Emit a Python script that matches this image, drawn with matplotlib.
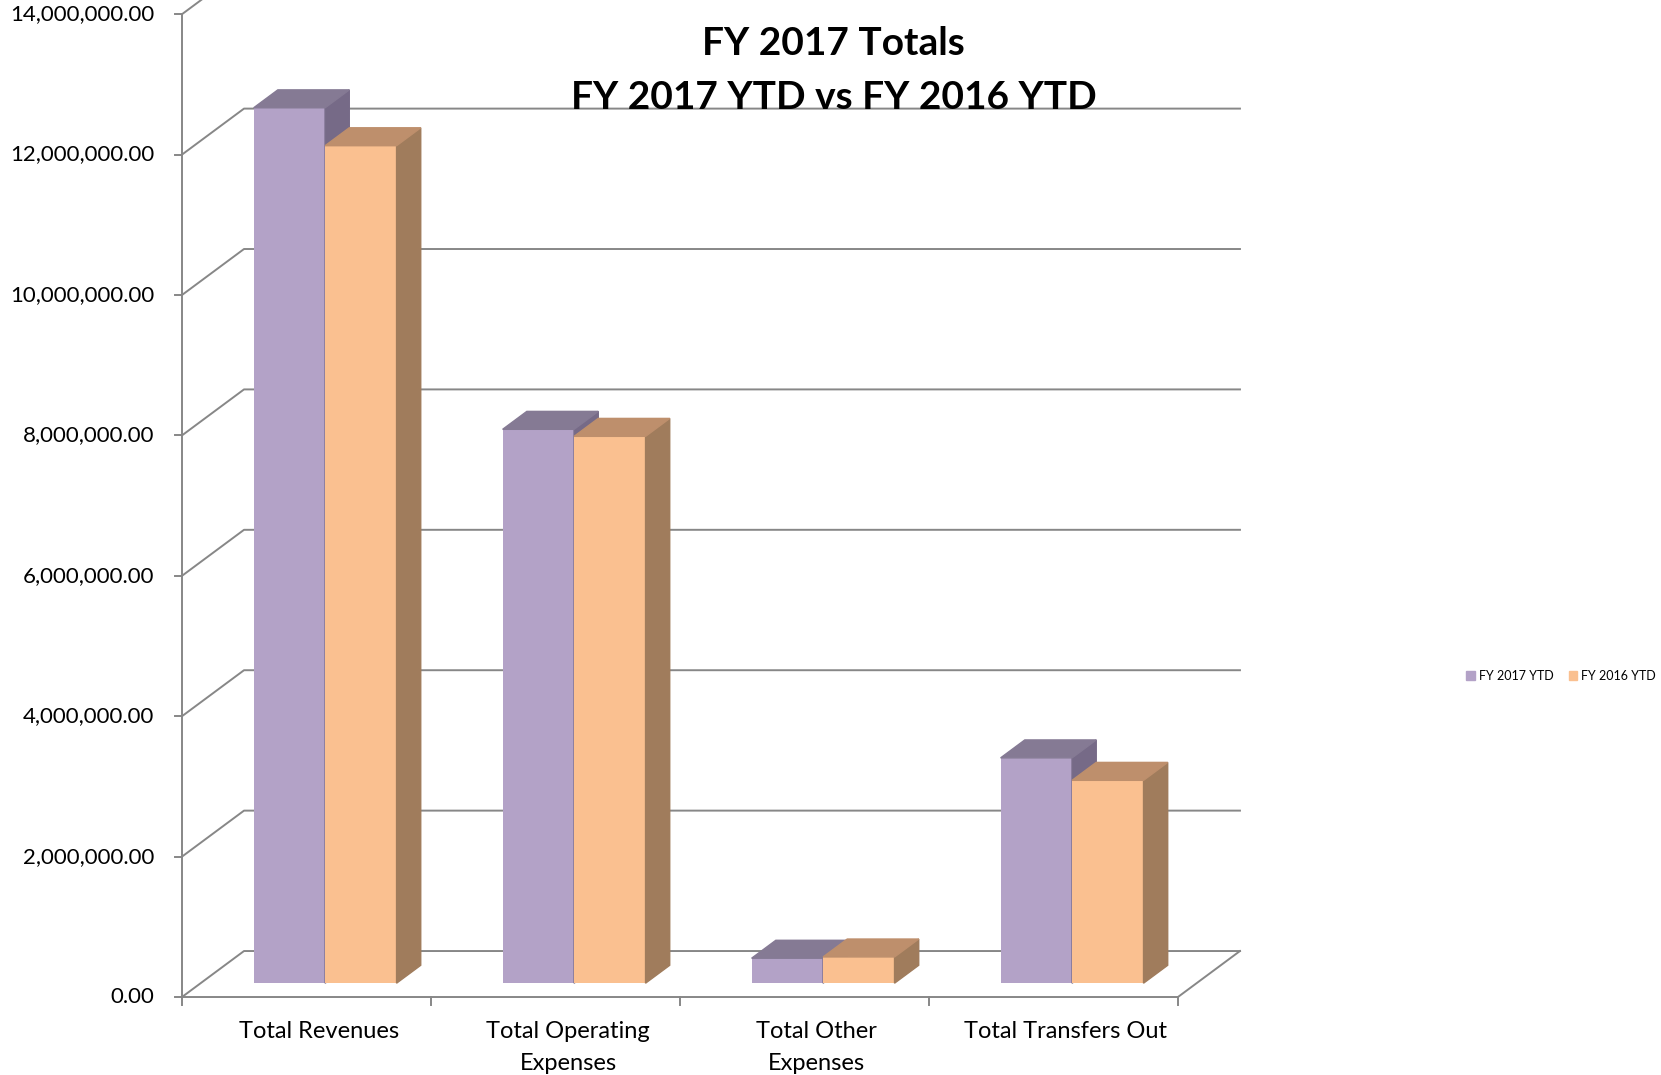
# Grafico de barras "3D" estilo Excel: FY 2017 YTD vs FY 2016 YTD
import matplotlib.pyplot as plt
from matplotlib.patches import Polygon, Patch
import numpy as np

plt.rcParams['font.family'] = ['Lato', 'DejaVu Sans']

# Datos
categorias = ['Total Revenues', 'Total Operating\nExpenses', 'Total Other\nExpenses', 'Total Transfers Out']
series = ['FY 2017 YTD', 'FY 2016 YTD']
fy2017 = [12470000, 7890000, 356000, 3210000]
fy2016 = [11930000, 7790000, 374000, 2890000]
yticks = [0, 2000000, 4000000, 6000000, 8000000, 10000000, 12000000, 14000000]

# Colores: frente, tapa, costado
colores = {
    'FY 2017 YTD': ('#B3A2C7', '#857A94', '#766A87'),
    'FY 2016 YTD': ('#FAC090', '#BE8F6C', '#A07C5C'),
}
gris = '#878787'

fig = plt.figure(figsize=(16.61, 10.75), dpi=100)
ax = fig.add_axes([0, 0, 1, 1])
ax.set_xlim(-1.231, 5.440)
ax.set_ylim(-1.111e6, 14.202e6)
ax.axis('off')

# Profundidad del piso (en unidades de datos)
dx = 0.249
dy = 655000
# Posicion y tamaño de las barras dentro de la profundidad
f0 = 0.30
fd = 0.39
ancho = 0.287

n = len(categorias)
x0 = -0.5
x1 = n - 0.5

# Grilla: diagonal en la pared lateral + linea horizontal en la pared del fondo
for v in yticks:
    ax.plot([x0, x0 + dx, x1 + dx], [v, v + dy, v + dy], color=gris, lw=1.4, zorder=1)
    ax.plot([x0 - 0.028, x0], [v, v], color=gris, lw=1.4, zorder=1)
    ax.text(x0 - 0.112, v, f'{v:,.2f}', ha='right', va='center', fontsize=16)

# Eje vertical, borde frontal del piso y borde derecho
ax.plot([x0, x0], [0, yticks[-1]], color=gris, lw=1.4, zorder=1)
ax.plot([x0, x1, x1 + dx], [0, 0, dy], color=gris, lw=1.4, zorder=1)
for k in range(n + 1):
    ax.plot([x0 + k, x0 + k], [0, -114000], color=gris, lw=1.4, zorder=1)

# Barras
base = f0 * dy
bdx = fd * dx
bdy = fd * dy
z = 2
for i in range(n):
    for j, (nombre, valores) in enumerate([(series[0], fy2017), (series[1], fy2016)]):
        frente, tapa, costado = colores[nombre]
        xi = i + f0 * dx - ancho + j * ancho
        v = valores[i]
        ax.bar(xi, v, width=ancho, bottom=base, align='edge', color=frente, zorder=z)
        top = base + v
        ax.add_patch(Polygon([(xi + ancho, base), (xi + ancho, top), (xi + ancho + bdx, top + bdy),
                              (xi + ancho + bdx, base + bdy)], closed=True, color=costado, zorder=z))
        ax.add_patch(Polygon([(xi, top), (xi + ancho, top), (xi + ancho + bdx, top + bdy),
                              (xi + bdx, top + bdy)], closed=True, color=tapa, zorder=z))
        z += 1

# Etiquetas de categorias
for i, cat in enumerate(categorias):
    ax.text(i + 0.05, -0.34e6, cat, ha='center', va='top', fontsize=17, linespacing=1.65)

# Titulo
fig.text(0.502, 0.9345, 'FY 2017 Totals\nFY 2017 YTD vs FY 2016 YTD', ha='center', va='center',
         fontsize=28, fontweight='bold', linespacing=1.68)

# Leyenda
handles = [Patch(color=colores[s][0], label=s) for s in series]
fig.legend(handles=handles, loc='center', bbox_to_anchor=(1561 / 1661, 1 - 676 / 1075), ncol=2,
           frameon=False, fontsize=9, handlelength=0.7, handleheight=0.7, handletextpad=0.3,
           columnspacing=1.2)

plt.savefig('out.png', dpi=100)
